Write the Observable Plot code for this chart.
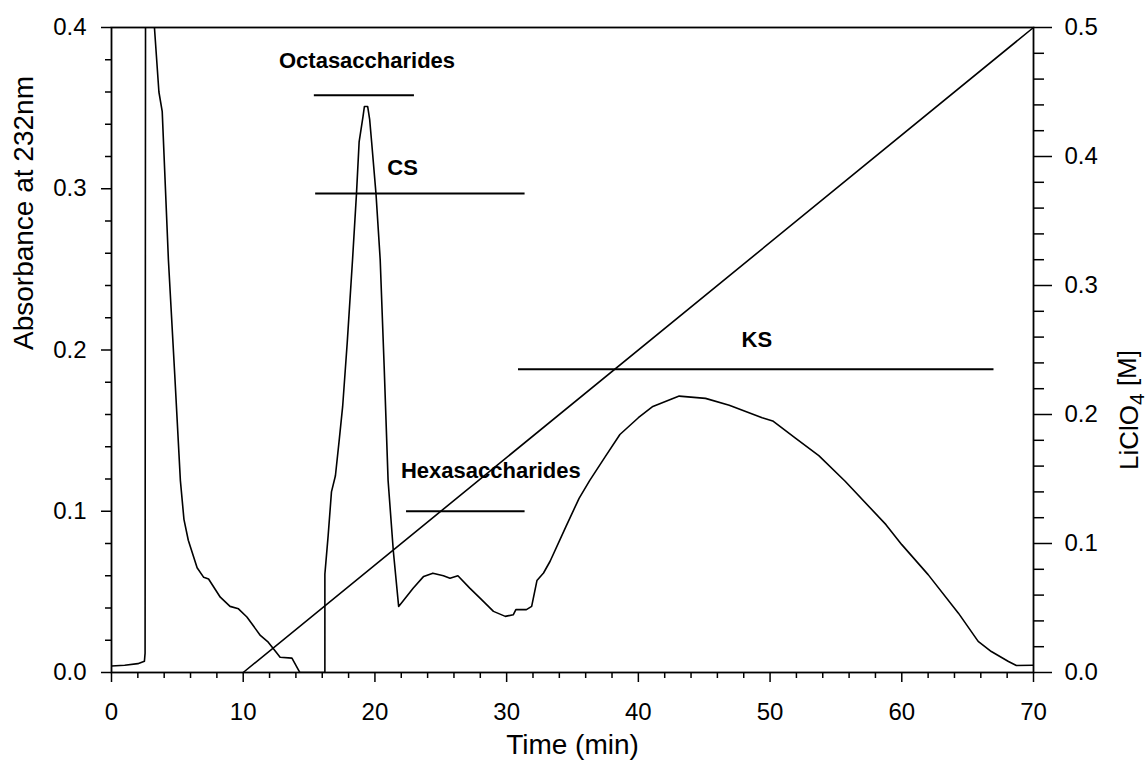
<!DOCTYPE html>
<html><head><meta charset="utf-8">
<script src="https://cdn.jsdelivr.net/npm/d3@7"></script>
<script src="https://cdn.jsdelivr.net/npm/@observablehq/plot@0.6"></script>
<style>
body{margin:0;background:#fff}
#chart svg{font-family:"Liberation Sans",Arial,sans-serif}
</style>
</head><body><div id="chart"></div>
<script>
// Absorbance at 232 nm trace (time in min)
const timeMin = [0, 1, 2, 2.5, 2.55, 2.6, 3.1, 3.26, 3.6, 3.85, 4.32, 4.8, 5.23, 5.5, 5.83, 6.5, 7.0, 7.37, 8.26, 9.0, 9.64, 10.28, 11.3, 11.9, 12.4, 12.8, 13.7, 14.3, 15.5, 16.2, 16.2, 16.45, 16.7, 17.0, 17.3, 17.55, 17.9, 18.3, 18.6, 18.8, 19.1, 19.2, 19.45, 19.6, 19.75, 20.08, 20.4, 20.7, 21.0, 21.4, 21.8, 22.0, 22.9, 23.7, 24.4, 25.2, 25.7, 26.3, 27.2, 28.0, 29.0, 29.9, 30.5, 30.7, 31.5, 31.9, 32.3, 32.8, 33.3, 34.5, 35.5, 36.3, 37.5, 38.6, 40.0, 41.1, 43.1, 45.1, 46.9, 49.4, 50.2, 51.9, 53.7, 55.7, 58.8, 60.0, 62.0, 64.3, 65.8, 66.8, 68.1, 68.7, 70.0];
const absorbance = [0.004, 0.0045, 0.0055, 0.007, 0.012, 0.6, 0.6, 0.4, 0.36, 0.348, 0.256, 0.185, 0.119, 0.095, 0.082, 0.065, 0.059, 0.058, 0.0467, 0.041, 0.0395, 0.0344, 0.023, 0.0188, 0.0136, 0.0095, 0.0089, 0.0, 0.0, 0.0, 0.061, 0.085, 0.112, 0.122, 0.145, 0.165, 0.205, 0.256, 0.297, 0.329, 0.345, 0.351, 0.351, 0.343, 0.329, 0.297, 0.256, 0.19, 0.119, 0.075, 0.041, 0.043, 0.0523, 0.0596, 0.0616, 0.060, 0.0585, 0.060, 0.0523, 0.046, 0.0379, 0.0348, 0.0358, 0.039, 0.039, 0.041, 0.057, 0.0617, 0.069, 0.0905, 0.108, 0.119, 0.134, 0.1476, 0.158, 0.165, 0.1714, 0.170, 0.1658, 0.158, 0.156, 0.1455, 0.1345, 0.1186, 0.0917, 0.0793, 0.0607, 0.0368, 0.0193, 0.013, 0.0068, 0.0043, 0.0045];

// LiClO4 gradient (right axis, M)
const gradientTime = [10, 70];
const gradientConc = [0, 0.5];

// Fraction bars and their labels
const bandNames = ["Octasaccharides", "CS", "Hexasaccharides", "KS"];
const bandStart = [15.4, 15.5, 22.4, 30.9];
const bandEnd = [23.0, 31.4, 31.4, 67.0];
const bandLevel = [0.358, 0.297, 0.100, 0.188];
const labelTime = [19.4, 22.1, 28.8, 49.0];
const labelLevel = [0.379, 0.313, 0.125, 0.206];

// Ticks
const xMajor = [0, 10, 20, 30, 40, 50, 60, 70];
const xMinor = [2, 4, 6, 8, 12, 14, 16, 18, 22, 24, 26, 28, 32, 34, 36, 38, 42, 44, 46, 48, 52, 54, 56, 58, 62, 64, 66, 68];
const yMajor = [0, 0.1, 0.2, 0.3, 0.4];
const yMinor = [0.02, 0.04, 0.06, 0.08, 0.12, 0.14, 0.16, 0.18, 0.22, 0.24, 0.26, 0.28, 0.32, 0.34, 0.36, 0.38];
const rMajor = [0, 0.1, 0.2, 0.3, 0.4, 0.5];
const rMinor = [0.02, 0.04, 0.06, 0.08, 0.12, 0.14, 0.16, 0.18, 0.22, 0.24, 0.26, 0.28, 0.32, 0.34, 0.36, 0.38, 0.42, 0.44, 0.46, 0.48];

const k = 0.4 / 0.5; // right-axis value -> left-axis value

const trace = timeMin.map((t, i) => ({t, a: absorbance[i]}));
const gradient = gradientTime.map((t, i) => ({t, c: gradientConc[i]}));
const bands = bandNames.map((name, i) => ({name, x1: bandStart[i], x2: bandEnd[i], y: bandLevel[i], lx: labelTime[i], ly: labelLevel[i]}));

const chart = Plot.plot({
  width: 1148,
  height: 766,
  marginLeft: 111,
  marginRight: 115,
  marginTop: 27,
  marginBottom: 94,
  x: {domain: [0, 70]},
  y: {domain: [0, 0.4]},
  style: {fontFamily: "'Liberation Sans', Arial, sans-serif", fontSize: "24px", color: "black", background: "white"},
  marks: [
    Plot.axisX(xMinor, {tickSize: 6, fill: "none", tickFormat: () => "", label: null, strokeWidth: 1.5}),
    Plot.axisX(xMajor, {tickSize: 10, tickPadding: 20, tickFormat: d => String(d), label: null, strokeWidth: 1.5, fontSize: 24}),
    Plot.axisY(yMinor, {tickSize: 6, fill: "none", tickFormat: () => "", label: null, strokeWidth: 1.5}),
    Plot.axisY(yMajor, {tickSize: 10, tickPadding: 15, tickFormat: d => d.toFixed(1), label: null, strokeWidth: 1.5, fontSize: 24}),
    Plot.axisY(rMinor, {anchor: "right", y: d => d * k, tickSize: 10, fill: "none", tickFormat: () => "", label: null, strokeWidth: 1.5}),
    Plot.axisY(rMajor, {anchor: "right", y: d => d * k, tickSize: 18, tickPadding: 13, tickFormat: d => d.toFixed(1), label: null, strokeWidth: 1.5, fontSize: 24}),
    Plot.frame({stroke: "black", strokeWidth: 1.8}),
    Plot.line(gradient, {x: "t", y: d => d.c * k, stroke: "black", strokeWidth: 1.6}),
    Plot.line(trace, {x: "t", y: "a", stroke: "black", strokeWidth: 1.6, clip: true}),
    Plot.ruleY(bands, {x1: "x1", x2: "x2", y: "y", stroke: "black", strokeWidth: 2}),
    Plot.text(bands, {x: "lx", y: "ly", text: "name", fontWeight: "bold", fontSize: 22}),
    Plot.text(["Time (min)"], {frameAnchor: "bottom", dy: 81, fontSize: 28}),
    Plot.text(["Absorbance at 232nm"], {frameAnchor: "left", dx: -87, rotate: -90, fontSize: 28}),
    Plot.text(["LiClO4 [M]"], {frameAnchor: "right", dx: 96, rotate: -90, fontSize: 26})
  ]
});

// subscript the 4 in LiClO4
chart.querySelectorAll("text").forEach(el => {
  if (el.textContent === "LiClO4 [M]") {
    const tspan = el.querySelector("tspan") || el;
    tspan.innerHTML = 'LiClO<tspan dy="0.28em" font-size="0.8em">4</tspan><tspan dy="-0.28em"> [M]</tspan>';
  }
});

document.getElementById("chart").appendChild(chart);
</script>
</body></html>
